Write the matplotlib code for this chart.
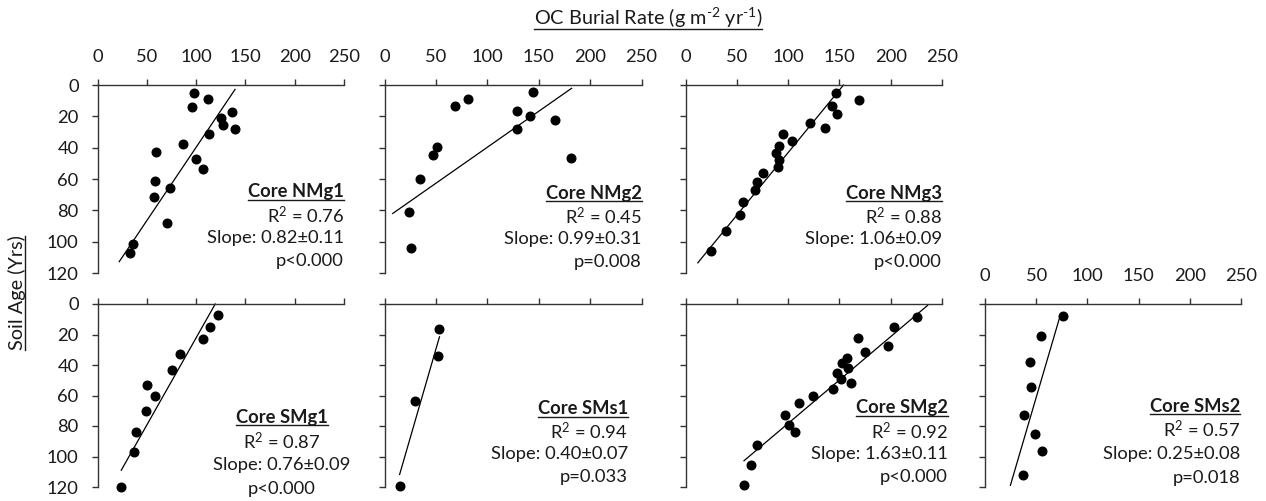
import matplotlib
matplotlib.use("Agg")
import matplotlib.pyplot as plt
from matplotlib.lines import Line2D

plt.rcParams['font.family'] = ['Lato', 'DejaVu Sans']
plt.rcParams['mathtext.fontset'] = 'custom'
plt.rcParams['mathtext.rm'] = 'Lato'
plt.rcParams['mathtext.it'] = 'Lato:italic'
plt.rcParams['mathtext.bf'] = 'Lato:bold'

# --- data (rate in g m-2 yr-1, age in yrs) ---
nmg1_rate = [98, 112.5, 96, 136, 125.7, 127.4, 139, 113.5, 87, 59, 100, 107, 58, 74, 57, 70, 35.5, 33]
nmg1_age = [4.9, 9.1, 13.8, 17, 21.3, 25.3, 28.3, 31.5, 37.7, 43, 47, 53.6, 61, 65.5, 71.7, 87.9, 101.3, 107]
nmg1_fit_rate = [22, 139.5]
nmg1_fit_age = [112.8, 2.8]

nmg2_rate = [144, 80.8, 68.5, 129, 142, 166, 129, 50.6, 46.8, 34.7, 181, 24, 26]
nmg2_age = [4.2, 8.9, 13.1, 16.3, 19.9, 22.2, 28.4, 39.4, 44.7, 59.7, 46.6, 81, 104]
nmg2_fit_rate = [8, 182]
nmg2_fit_age = [82, 2.1]

nmg3_rate = [147, 169, 142.8, 147.4, 121, 136, 95, 104, 90.7, 88.4, 90.7, 90, 75.5, 69.6, 67.7, 56, 52.8, 39, 25]
nmg3_age = [5.3, 9.5, 13.4, 18.5, 24.2, 27.6, 31.2, 35.6, 39, 43.7, 47.9, 52.2, 56, 61.7, 66.8, 74.9, 82.9, 92.9, 106.2]
nmg3_fit_rate = [12, 154]
nmg3_fit_age = [113.5, 0]

smg1_rate = [122.4, 113.6, 106.5, 83.3, 75.2, 50, 58.2, 49.3, 39.1, 36.7, 24.1]
smg1_age = [7.0, 14.9, 23.0, 33.0, 43.1, 53.0, 60.6, 70.0, 84.0, 96.9, 119.9]
smg1_fit_rate = [24.1, 119.4]
smg1_fit_age = [109, 0]

sms1_rate = [53.2, 51.9, 29.5, 14.7]
sms1_age = [16.1, 33.8, 63.7, 119.6]
sms1_fit_rate = [14.7, 53.5]
sms1_fit_age = [111.8, 21.5]

smg2_rate = [226, 203, 167.7, 197, 174.6, 157.7, 153, 158, 147.6, 151.5, 161, 143.3, 123.8, 111,
             97.4, 100.7, 106.5, 70, 64.2, 57.3]
smg2_age = [8.3, 14.8, 22.4, 27.4, 31.5, 35.7, 38.7, 42, 45.2, 48.9, 51.7, 55.7, 60, 65.2,
            72.8, 79.3, 83.9, 92.4, 105.4, 119]
smg2_fit_rate = [57, 236]
smg2_fit_age = [102.8, 0.9]

sms2_rate = [76, 54.4, 44.3, 45, 38.1, 49.2, 55.4, 37.2]
sms2_age = [7.8, 20.7, 38, 54.4, 72.5, 85.2, 96.2, 112]
sms2_fit_rate = [24.8, 73]
sms2_fit_age = [118.9, 8.6]

cores = ['NMg1', 'NMg2', 'NMg3', 'SMg1', 'SMs1', 'SMg2', 'SMs2']
r2_vals = ['0.76', '0.45', '0.88', '0.87', '0.94', '0.92', '0.57']
slopes = ['0.82\u00b10.11', '0.99\u00b10.31', '1.06\u00b10.09', '0.76\u00b10.09',
          '0.40\u00b10.07', '1.63\u00b10.11', '0.25\u00b10.08']
p_vals = ['p<0.000', 'p=0.008', 'p<0.000', 'p<0.000', 'p=0.033', 'p<0.000', 'p=0.018']

x_ticks = [0, 50, 100, 150, 200, 250]
y_ticks = [0, 20, 40, 60, 80, 100, 120]

series = [
    (nmg1_rate, nmg1_age, nmg1_fit_rate, nmg1_fit_age),
    (nmg2_rate, nmg2_age, nmg2_fit_rate, nmg2_fit_age),
    (nmg3_rate, nmg3_age, nmg3_fit_rate, nmg3_fit_age),
    (smg1_rate, smg1_age, smg1_fit_rate, smg1_fit_age),
    (sms1_rate, sms1_age, sms1_fit_rate, sms1_fit_age),
    (smg2_rate, smg2_age, smg2_fit_rate, smg2_fit_age),
    (sms2_rate, sms2_age, sms2_fit_rate, sms2_fit_age),
]

# --- layout (pixels in a 1266x501 canvas) ---
W, H = 1266, 501
col_x = [97.5, 384.5, 685.5, 985]
col_w = [246.5, 257, 256.5, 256]
row_top = [85, 304]
row_h = [188, 183]
# panel -> (col, row), x-labels on top?, y-labels?
panel_pos = [(0, 0, True, True), (1, 0, True, False), (2, 0, True, False),
             (0, 1, False, True), (1, 1, False, False), (2, 1, False, False), (3, 1, True, False)]
# annotation: x (axes frac), alignment, y of first line (px), line step (px)
annot = [(1.0, 'right', 192, 23), (1.0, 'right', 193, 23), (1.0, 'right', 193, 23),
         (0.748, 'center', 417, 24), (0.947, 'right', 409, 22.7), (1.023, 'right', 408, 23),
         (0.996, 'right', 406, 24)]

fig = plt.figure(figsize=(W / 100, H / 100), dpi=100)
fs = 13.2
tfs = 13.2
ink = '#1a1a1a'
to_underline = []

for i, (rate, age, frate, fage) in enumerate(series):
    c, r, xlab, ylab = panel_pos[i]
    left = col_x[c] / W
    bottom = (H - row_top[r] - row_h[r]) / H
    ax = fig.add_axes([left, bottom, col_w[c] / W, row_h[r] / H])
    ax.plot(rate, age, 'o', color='black', ms=6.2, clip_on=False, zorder=3)
    ax.plot(frate, fage, '-', color='black', lw=0.9, clip_on=False)
    ax.set_xlim(0, 250)
    ax.set_ylim(120, 0)
    ax.set_xticks(x_ticks)
    ax.set_yticks(y_ticks)
    ax.xaxis.tick_top()
    for s in ['right', 'bottom']:
        ax.spines[s].set_visible(False)
    for s in ['top', 'left']:
        ax.spines[s].set_color('#333333')
        ax.spines[s].set_linewidth(1.0)
    ax.tick_params(axis='x', direction='out', length=4.5, width=1.0, color='#333333',
                   labelsize=tfs, pad=10, labeltop=xlab, labelcolor=ink)
    ax.tick_params(axis='y', direction='out', length=4.5, width=1.0, color='#333333',
                   labelsize=tfs, pad=9, labelleft=ylab, labelcolor=ink)

    ax_x, ha, y0, dy = annot[i]
    ah = row_h[r]
    top_px = row_top[r]
    def yf(px):
        return 1 - (px - top_px) / ah
    t = ax.text(ax_x, yf(y0), 'Core ' + cores[i], transform=ax.transAxes, ha=ha, va='center',
                fontsize=fs, fontweight='bold', color=ink)
    to_underline.append((t, 'h'))
    ax.text(ax_x, yf(y0 + dy), 'R$^{2}$ = ' + r2_vals[i], transform=ax.transAxes, ha=ha,
            va='center', fontsize=fs, color=ink)
    ax.text(ax_x, yf(y0 + 2 * dy), 'Slope: ' + slopes[i], transform=ax.transAxes, ha=ha,
            va='center', fontsize=fs, color=ink)
    ax.text(ax_x, yf(y0 + 3 * dy), p_vals[i], transform=ax.transAxes, ha=ha,
            va='center', fontsize=fs, color=ink)

t = fig.text(648 / W, 1 - 18 / H, r'OC Burial Rate (g m$^{\text{-}2}$ yr$^{\text{-}1}$)',
             ha='center', va='center', fontsize=14.3, color=ink)
to_underline.append((t, 'h'))
t = fig.text(17 / W, 1 - 293 / H, 'Soil Age (Yrs)', rotation=90, ha='center', va='center',
             fontsize=14.3, color=ink)
to_underline.append((t, 'v'))

# underline texts (matplotlib has no underline style)
fig.canvas.draw()
inv = fig.transFigure.inverted()
for t, kind in to_underline:
    bb = t.get_window_extent()
    if kind == 'h':
        p0 = inv.transform((bb.x0, bb.y0 + 1))
        p1 = inv.transform((bb.x1, bb.y0 + 1))
    else:
        p0 = inv.transform((bb.x1 - 1, bb.y0))
        p1 = inv.transform((bb.x1 - 1, bb.y1))
    fig.add_artist(Line2D([p0[0], p1[0]], [p0[1], p1[1]], color=ink, lw=1.0))

fig.savefig('out.png', dpi=100)
